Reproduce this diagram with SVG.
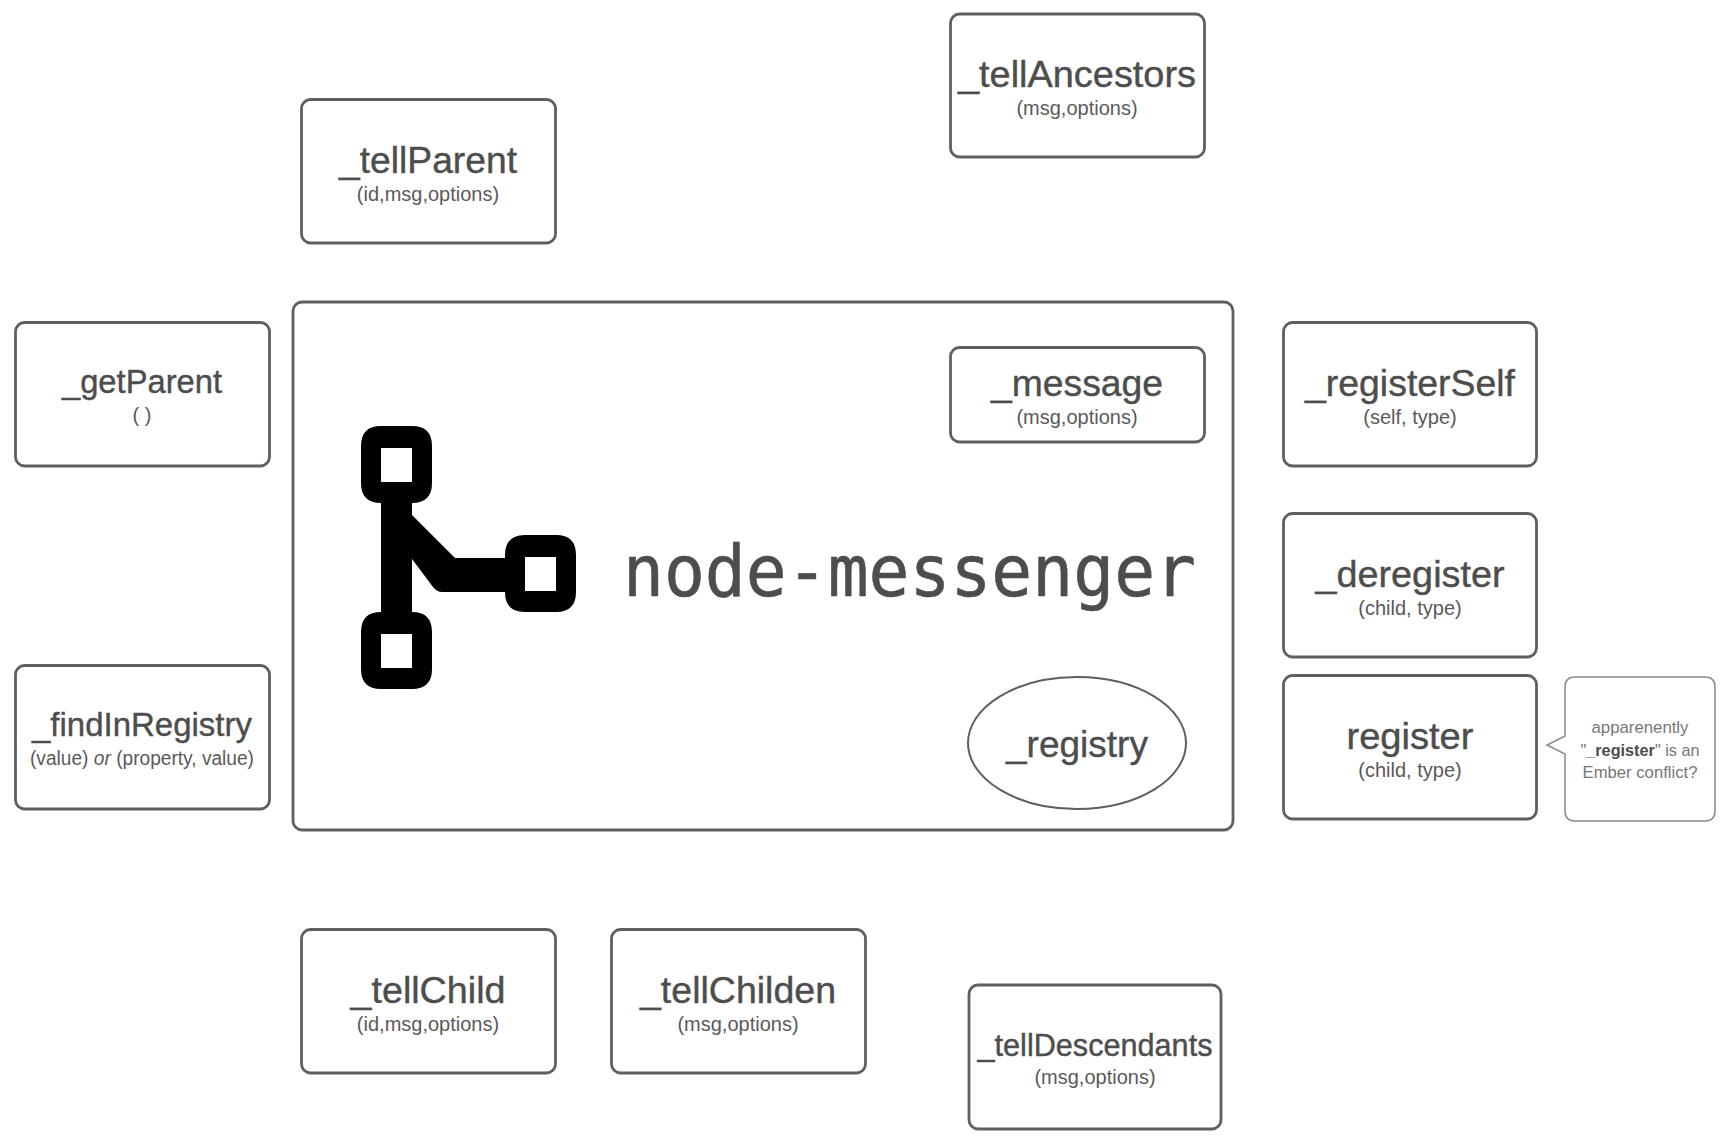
<svg xmlns="http://www.w3.org/2000/svg" width="1724" height="1139" viewBox="0 0 1724 1139">
<style>
.b{fill:#fff;stroke:#5f5f5f;stroke-width:2.800}
.t{font-family:"Liberation Sans",Arial,sans-serif;font-size:37px;fill:#4d4d4d;text-anchor:middle;stroke:#4d4d4d;stroke-width:.4}
.s{font-family:"Liberation Sans",Arial,sans-serif;font-size:20px;fill:#5a5a5a;text-anchor:middle}
.n{font-family:"Liberation Sans",Arial,sans-serif;font-size:17px;fill:#777;text-anchor:middle}
</style>
<rect width="1724" height="1139" fill="#fff"/>
<g id="connectors"></g>
<g id="node-messenger">
<rect class="b" x="293" y="302" width="940" height="528" rx="9"/>
<path fill="#000" d="M381 503H412V515L455 558H505V592H442Q437 592 433 587L412 559V614H381Z"/>
<path fill="#000" fill-rule="evenodd" d="M381 426H412Q432 426 432 446V483Q432 503 412 503H381Q361 503 361 483V446Q361 426 381 426ZM381 448V482H412V448Z"/>
<path fill="#000" fill-rule="evenodd" d="M381 612H412Q432 612 432 632V669Q432 689 412 689H381Q361 689 361 669V632Q361 612 381 612ZM381 634V668H412V634Z"/>
<path fill="#000" fill-rule="evenodd" d="M525 535H556Q576 535 576 555V592Q576 612 556 612H525Q505 612 505 592V555Q505 535 525 535ZM525 557V591H556V557Z"/>
<text x="623" y="596" textLength="573" lengthAdjust="spacingAndGlyphs" style="font-family:'DejaVu Sans Mono',monospace;font-size:71px;fill:#4d4d4d;stroke:#4d4d4d;stroke-width:.6">node-messenger</text>
</g>
<g id="tellAncestors"><rect class="b" x="950.500" y="14" width="254" height="143" rx="9"/><text class="t" x="1077" y="87" textLength="238" lengthAdjust="spacingAndGlyphs">_tellAncestors</text><text class="s" x="1077" y="115">(msg,options)</text></g>
<g id="tellParent"><rect class="b" x="301.500" y="99.500" width="254" height="143.500" rx="9"/><text class="t" x="428" y="173" textLength="178" lengthAdjust="spacingAndGlyphs">_tellParent</text><text class="s" x="428" y="201">(id,msg,options)</text></g>
<g id="getParent"><rect class="b" x="15.500" y="322.500" width="254" height="143.500" rx="9"/><text class="t" x="142" y="393" style="font-size:34px" textLength="160" lengthAdjust="spacingAndGlyphs">_getParent</text><text class="s" x="142" y="422">( )</text></g>
<g id="findInRegistry"><rect class="b" x="15.500" y="665.500" width="254" height="143.500" rx="9"/><text class="t" x="142" y="736" style="font-size:34px" textLength="220" lengthAdjust="spacingAndGlyphs">_findInRegistry</text><text class="s" x="142" y="765" textLength="224" lengthAdjust="spacingAndGlyphs">(value) <tspan font-style="italic">or</tspan> (property, value)</text></g>
<g id="message"><rect class="b" x="950.500" y="347.500" width="254" height="94.500" rx="9"/><text class="t" x="1077" y="396" textLength="172" lengthAdjust="spacingAndGlyphs">_message</text><text class="s" x="1077" y="424">(msg,options)</text></g>
<g id="registry"><ellipse class="b" cx="1077" cy="743" rx="109" ry="66" style="stroke-width:2"/><text class="t" x="1077" y="757">_registry</text></g>
<g id="registerSelf"><rect class="b" x="1283.500" y="322.500" width="253" height="143.500" rx="9"/><text class="t" x="1410" y="396" textLength="210" lengthAdjust="spacingAndGlyphs">_registerSelf</text><text class="s" x="1410" y="424">(self, type)</text></g>
<g id="deregister"><rect class="b" x="1283.500" y="513.500" width="253" height="143.500" rx="9"/><text class="t" x="1410" y="587" textLength="189" lengthAdjust="spacingAndGlyphs">_deregister</text><text class="s" x="1410" y="615">(child, type)</text></g>
<g id="register"><rect class="b" x="1283.500" y="675.500" width="253" height="143.500" rx="9"/><text class="t" x="1410" y="749" textLength="127" lengthAdjust="spacingAndGlyphs">register</text><text class="s" x="1410" y="777">(child, type)</text></g>
<g id="note"><path d="M1575 677H1705Q1715 677 1715 687V811Q1715 821 1705 821H1575Q1565 821 1565 811V754L1547 745L1565 736V687Q1565 677 1575 677Z" fill="#fff" stroke="#8a8a8a" stroke-width="1.500"/>
<text class="n" x="1640" y="733" textLength="97" lengthAdjust="spacingAndGlyphs">apparenently</text><text class="n" x="1640" y="756" textLength="119" lengthAdjust="spacingAndGlyphs">"<tspan font-weight="bold" fill="#4d4d4d">_register</tspan>" is an</text><text class="n" x="1640" y="778" textLength="115" lengthAdjust="spacingAndGlyphs">Ember conflict?</text></g>
<g id="tellChild"><rect class="b" x="301.500" y="929.500" width="254" height="143.500" rx="9"/><text class="t" x="428" y="1003" textLength="155" lengthAdjust="spacingAndGlyphs">_tellChild</text><text class="s" x="428" y="1031">(id,msg,options)</text></g>
<g id="tellChilden"><rect class="b" x="611.500" y="929.500" width="254" height="143.500" rx="9"/><text class="t" x="738" y="1003" textLength="196" lengthAdjust="spacingAndGlyphs">_tellChilden</text><text class="s" x="738" y="1031">(msg,options)</text></g>
<g id="tellDescendants"><rect class="b" x="969" y="985" width="252" height="144" rx="9"/><text class="t" x="1095" y="1056" style="font-size:31px" textLength="235" lengthAdjust="spacingAndGlyphs">_tellDescendants</text><text class="s" x="1095" y="1084">(msg,options)</text></g>
</svg>
